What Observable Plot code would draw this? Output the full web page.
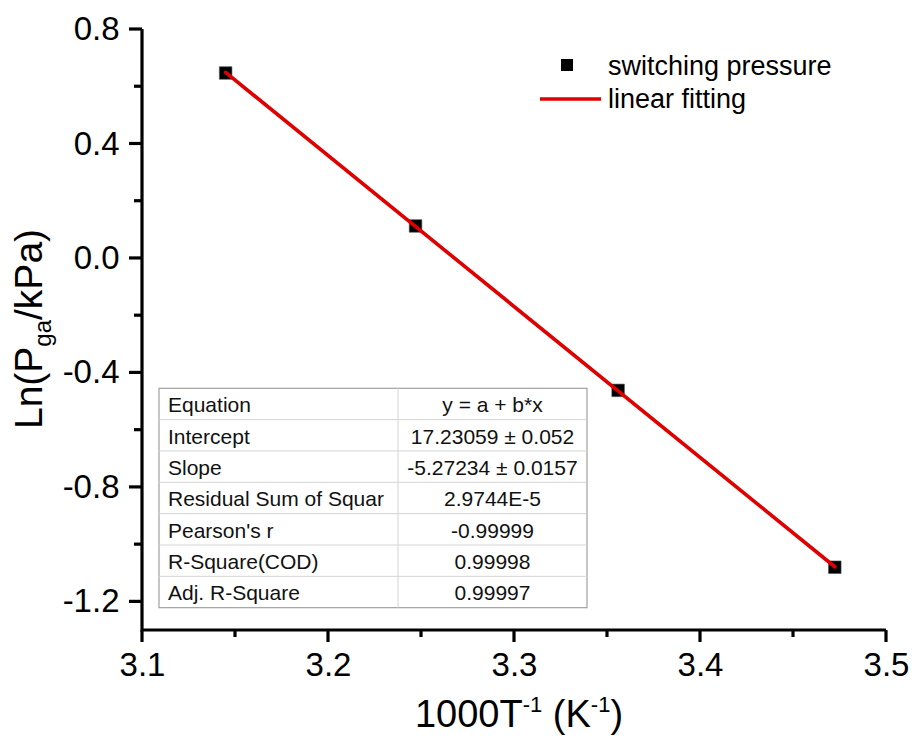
<!DOCTYPE html>
<html><head><meta charset="utf-8">
<script src="https://cdn.jsdelivr.net/npm/d3@7"></script>
<script src="https://cdn.jsdelivr.net/npm/@observablehq/plot@0.6"></script>
<style>body{margin:0;background:#fff;} #chart{width:916px;height:737px;}</style>
</head><body><div id="chart"></div>
<script>
// Data
const invT = [3.1447, 3.2468, 3.3557, 3.4722];       // 1000/T (1/K)
const lnP = [0.648, 0.1135, -0.461, -1.079];          // Ln(Pga/kPa)
const xTicks = [3.1, 3.2, 3.3, 3.4, 3.5];
const xMinor = [3.15, 3.25, 3.35, 3.45];
const yTicks = [-1.2, -0.8, -0.4, 0, 0.4, 0.8];
const yMinor = [-1.0, -0.6, -0.2, 0.2, 0.6];
const xDomain = [3.1, 3.5];
const yDomain = [-1.3, 0.8];
const fitRows = ["Equation", "Intercept", "Slope", "Residual Sum of Squar", "Pearson's r", "R-Square(COD)", "Adj. R-Square"];
const fitValues = ["y = a + b*x", "17.23059 ± 0.052", "-5.27234 ± 0.0157", "2.9744E-5", "-0.99999", "0.99998", "0.99997"];
const legendLabels = ["switching pressure", "linear fitting"];

const data = invT.map((x, i) => ({x, y: lnP[i]}));
const font = "'Liberation Sans', Arial, sans-serif";
const red = "#e00000";

const plot = Plot.plot({
  width: 916, height: 737,
  marginLeft: 142, marginRight: 30, marginTop: 29, marginBottom: 107,
  style: {fontFamily: font, background: "white", color: "black", overflow: "visible"},
  x: {domain: xDomain},
  y: {domain: yDomain},
  marks: [
    Plot.axisX({ticks: xTicks, tickSize: 0, tickPadding: 22, tickFormat: d => d.toFixed(1), label: null, fontSize: 33}),
    Plot.axisY({ticks: yTicks, tickSize: 0, tickPadding: 23, tickFormat: d => d.toFixed(1), label: null, fontSize: 33}),
    Plot.dot(data, {x: "x", y: "y", symbol: "square", r: 7.1, fill: "black", stroke: "#555", strokeWidth: 0.6}),
    Plot.linearRegressionY(data, {x: "x", y: "y", ci: 0, stroke: red, strokeWidth: 3.6})
  ]
});
document.getElementById("chart").appendChild(plot);

const svg = d3.select(plot);
const sx = plot.scale("x"), sy = plot.scale("y");
const X = d3.scaleLinear(sx.domain, sx.range);
const Y = d3.scaleLinear(sy.domain, sy.range);

// Axis lines and ticks (thick, Origin style)
const ax = svg.insert("g", ":first-child").attr("stroke", "black").attr("stroke-width", 3.2).attr("fill", "none");
const x0 = X(xDomain[0]), y0 = Y(yDomain[0]);
ax.append("path").attr("d", `M${x0},${Y(yDomain[1])}V${y0}H${X(xDomain[1])}`).attr("stroke-linejoin", "miter");
xTicks.forEach(v => ax.append("line").attr("x1", X(v)).attr("x2", X(v)).attr("y1", y0).attr("y2", y0 + 12));
xMinor.forEach(v => ax.append("line").attr("x1", X(v)).attr("x2", X(v)).attr("y1", y0).attr("y2", y0 + 7));
yTicks.forEach(v => ax.append("line").attr("x1", x0 - 13).attr("x2", x0).attr("y1", Y(v)).attr("y2", Y(v)));
yMinor.forEach(v => ax.append("line").attr("x1", x0 - 8).attr("x2", x0).attr("y1", Y(v)).attr("y2", Y(v)));

// Y title
const yt = svg.append("text")
  .attr("transform", "translate(42,329) rotate(-90)")
  .attr("text-anchor", "middle")
  .style("font-family", font).style("font-size", "39px").attr("fill", "black");
yt.append("tspan").text("Ln(P");
yt.append("tspan").attr("dy", 9).style("font-size", "24px").text("ga");
yt.append("tspan").attr("dy", -9).text("/kPa)");

// X title
const xt = svg.append("text")
  .attr("x", 519).attr("y", 727)
  .attr("text-anchor", "middle")
  .style("font-family", font).style("font-size", "38px").style("white-space", "pre").attr("fill", "black");
xt.append("tspan").text("1000T");
xt.append("tspan").attr("dy", -15).style("font-size", "22px").text("-1");
xt.append("tspan").attr("dy", 15).text(" (K");
xt.append("tspan").attr("dy", -15).style("font-size", "22px").text("-1");
xt.append("tspan").attr("dy", 15).text(")");

// Legend
const lg = svg.append("g").attr("text-anchor", "start").style("font-family", font).style("font-size", "27px");
lg.append("rect").attr("x", 561).attr("y", 59).attr("width", 12).attr("height", 12).attr("fill", "black");
lg.append("text").attr("x", 608).attr("y", 75).attr("fill", "black").text(legendLabels[0]);
lg.append("line").attr("x1", 540).attr("x2", 601).attr("y1", 99).attr("y2", 99).attr("stroke", red).attr("stroke-width", 3.6);
lg.append("text").attr("x", 608).attr("y", 108).attr("fill", "black").text(legendLabels[1]);

// Fit table
const tx = 159, ty = 388.3, tw = 428, rowH = 31.34, colX = 398;
const tb = svg.append("g").attr("text-anchor", "start").style("font-family", font).style("font-size", "21px");
tb.append("rect").attr("x", tx).attr("y", ty).attr("width", tw).attr("height", rowH * fitRows.length)
  .attr("fill", "white").attr("stroke", "#a0a0a0").attr("stroke-width", 1.2);
for (let i = 1; i < fitRows.length; i++) {
  tb.append("line").attr("x1", tx).attr("x2", tx + tw).attr("y1", ty + i * rowH).attr("y2", ty + i * rowH)
    .attr("stroke", "#d4d4d4").attr("stroke-width", 1);
}
tb.append("line").attr("x1", colX).attr("x2", colX).attr("y1", ty).attr("y2", ty + rowH * fitRows.length)
  .attr("stroke", "#d4d4d4").attr("stroke-width", 1);
fitRows.forEach((r, i) => {
  tb.append("text").attr("x", tx + 9).attr("y", ty + i * rowH + 24).attr("text-anchor", "start").attr("fill", "#111").text(r);
  tb.append("text").attr("x", (colX + tx + tw) / 2).attr("y", ty + i * rowH + 24).attr("text-anchor", "middle").attr("fill", "#111").text(fitValues[i]);
});
</script>
</body></html>
